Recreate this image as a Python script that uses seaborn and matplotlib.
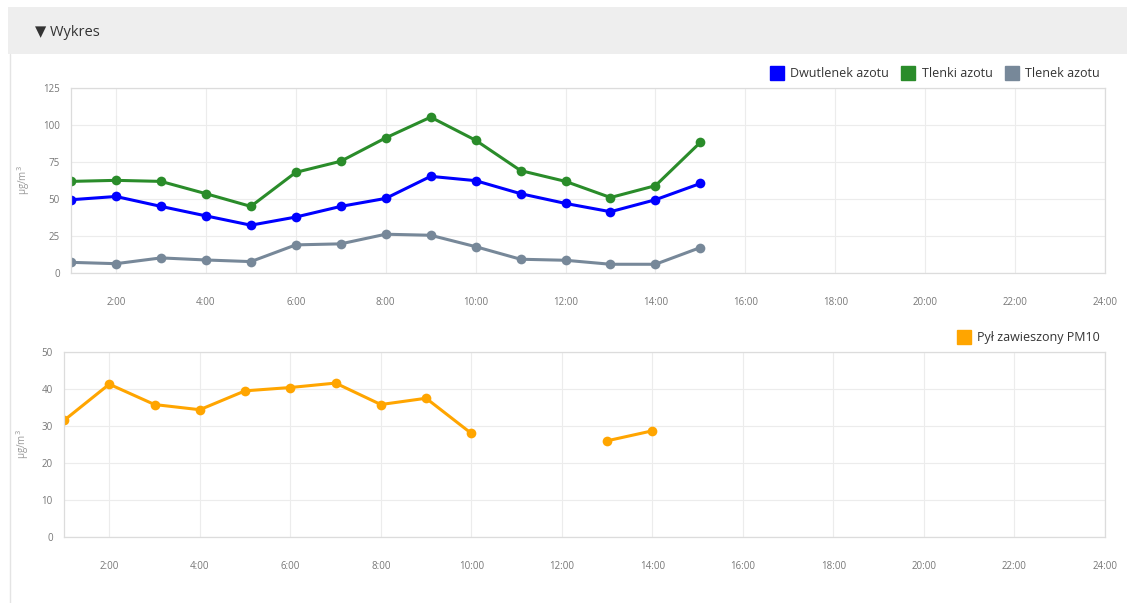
"""
Wykres stężeń tlenków azotu i pyłu PM10 w ciągu doby
"""

import numpy as np
import pandas as pd
import matplotlib

matplotlib.use("Agg")
import matplotlib.pyplot as plt
from matplotlib.lines import Line2D
from matplotlib.patches import Rectangle
import seaborn as sns

sns.set_style("white")
plt.rcParams["font.family"] = ["Open Sans", "DejaVu Sans"]

# %%
hours = list(range(1, 16))
dwutlenek = [49.5, 51.7, 45, 38.6, 32.3, 37.8, 45, 50.4, 65.3, 62.4, 53.6, 47, 41.4, 49.5, 60.5]
tlenki = [61.9, 62.6, 61.9, 53.6, 45, 68, 75.5, 91.3, 105.3, 89.7, 69.2, 61.9, 51, 59, 88.3]
tlenek = [7.2, 6.3, 10.2, 8.8, 7.7, 19, 19.7, 26.2, 25.5, 17.8, 9.3, 8.6, 5.9, 5.9, 17.2]

pm_hours = list(range(1, 15))
pm10 = [31.5, 41.3, 35.8, 34.4, 39.5, 40.4, 41.6, 35.8, 37.5, 28, np.nan, np.nan, 26, 28.7]

nazwy_azot = ["Dwutlenek azotu", "Tlenki azotu", "Tlenek azotu"]
kolory_azot = ["#0000ff", "#2a8c2a", "#778899"]
nazwa_pm = "Pył zawieszony PM10"
kolor_pm = "#ffa500"

x_ticks = list(range(2, 25, 2))
x_labels = [f"{h}:00" for h in x_ticks]

# %%
azot = pd.DataFrame(
    {
        "Godzina": hours * 3,
        "Wartosc": dwutlenek + tlenki + tlenek,
        "Seria": sum([[n] * len(hours) for n in nazwy_azot], []),
    }
)

pm = pd.DataFrame({"Godzina": pm_hours, "Wartosc": pm10})
pm["Segment"] = pm["Wartosc"].isna().cumsum()
pm = pm.dropna()


def style_axes(ax, yticks):
    ax.set_xlim(1, 24)
    ax.set_ylim(yticks[0], yticks[-1])
    ax.set_xticks(x_ticks, x_labels)
    ax.set_yticks(yticks)
    ax.grid(True, color="#ececec", lw=0.8)
    ax.set_axisbelow(True)
    for s in ax.spines.values():
        s.set_color("#dcdcdc")
        s.set_linewidth(0.9)
    ax.tick_params(axis="both", length=0, labelsize=7, labelcolor="#777777")
    ax.tick_params(axis="x", pad=17)
    ax.tick_params(axis="y", pad=8)
    ax.set_xlabel("")
    ax.set_ylabel("μg/m$^3$", fontsize=7, color="#999999", labelpad=8)


fig = plt.figure(figsize=(11.27, 6.03), dpi=100)

# naglowek panelu
fig.patches.append(
    Rectangle((8 / 1127, 1 - 54 / 603), 1, 47 / 603, transform=fig.transFigure,
              facecolor="#eeeeee", edgecolor="none", zorder=0)
)
fig.add_artist(Line2D([10 / 1127, 10 / 1127], [0, 1 - 54 / 603], transform=fig.transFigure,
                      color="#e4e4e4", lw=1))
fig.text(35 / 1127, 1 - 33 / 603, "▼ Wykres", fontsize=10.5, color="#333333", va="center",
         family=["Open Sans", "DejaVu Sans"])

ax1 = fig.add_axes([71 / 1127, 1 - 273 / 603, 1034 / 1127, 185 / 603])
sns.lineplot(data=azot, x="Godzina", y="Wartosc", hue="Seria", hue_order=nazwy_azot,
             palette=kolory_azot, marker="o", markersize=7, markeredgewidth=0,
             linewidth=2.2, legend=False, ax=ax1)
style_axes(ax1, [0, 25, 50, 75, 100, 125])
ax1.legend(
    handles=[Line2D([], [], marker="s", ls="", markersize=10, color=c) for c in kolory_azot],
    labels=nazwy_azot, loc="lower right", bbox_to_anchor=(1.0, 1.015), ncol=3,
    frameon=False, fontsize=9, handletextpad=0.1, columnspacing=0.5,
    borderaxespad=0, labelcolor="#333333",
)

ax2 = fig.add_axes([64 / 1127, 1 - 537 / 603, 1041 / 1127, 185 / 603])
for seg, d in pm.groupby("Segment"):
    sns.lineplot(data=d, x="Godzina", y="Wartosc", color=kolor_pm, marker="o",
                 markersize=7, markeredgewidth=0, linewidth=2.2, ax=ax2)
style_axes(ax2, [0, 10, 20, 30, 40, 50])
ax2.legend(
    handles=[Line2D([], [], marker="s", ls="", markersize=10, color=kolor_pm)],
    labels=[nazwa_pm], loc="lower right", bbox_to_anchor=(1.0, 1.015),
    frameon=False, fontsize=9, handletextpad=0.1, borderaxespad=0, labelcolor="#333333",
)

fig.savefig("out.png", dpi=100)
